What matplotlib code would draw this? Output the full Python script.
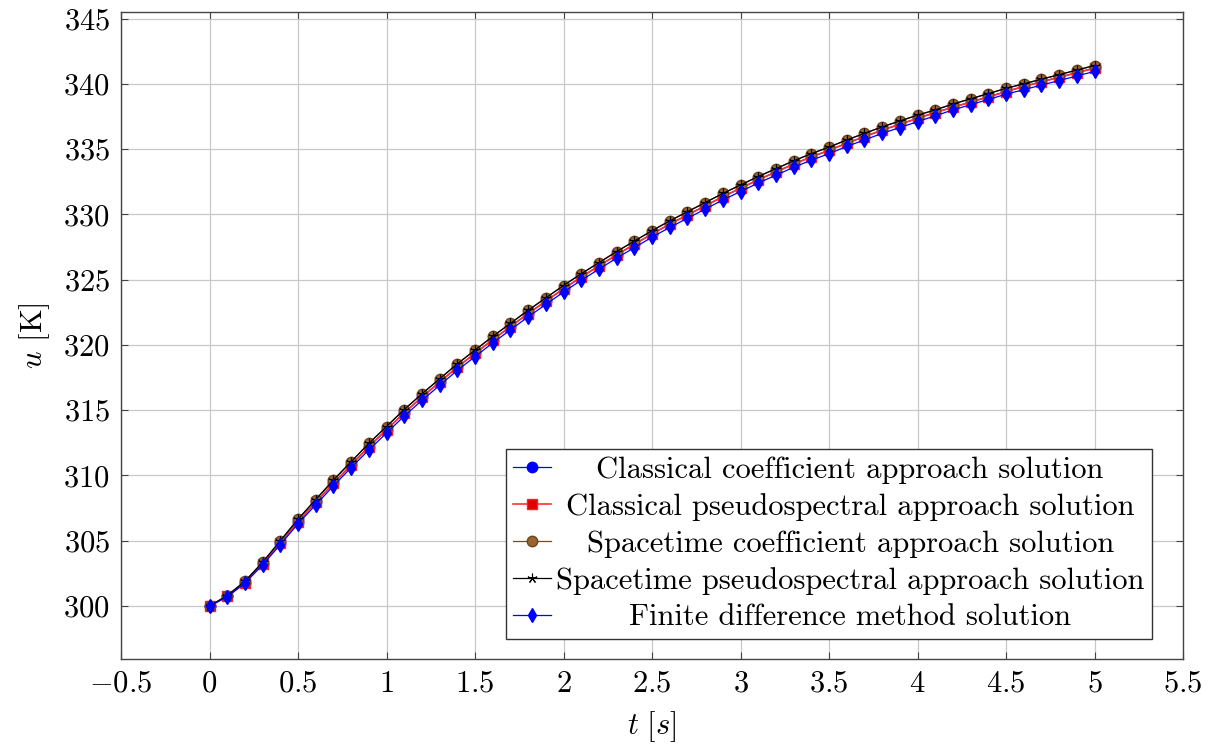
import matplotlib
matplotlib.use("Agg")
from matplotlib import pyplot as plt

plt.rcParams['font.family'] = ['cmr10', 'DejaVu Serif']
plt.rcParams['mathtext.fontset'] = 'cm'
plt.rcParams['axes.formatter.use_mathtext'] = True
plt.rcParams['axes.unicode_minus'] = True

t = [0.0, 0.1, 0.2, 0.3, 0.4, 0.5, 0.6, 0.7, 0.8, 0.9,
     1.0, 1.1, 1.2, 1.3, 1.4, 1.5, 1.6, 1.7, 1.8, 1.9,
     2.0, 2.1, 2.2, 2.3, 2.4, 2.5, 2.6, 2.7, 2.8, 2.9,
     3.0, 3.1, 3.2, 3.3, 3.4, 3.5, 3.6, 3.7, 3.8, 3.9,
     4.0, 4.1, 4.2, 4.3, 4.4, 4.5, 4.6, 4.7, 4.8, 4.9, 5.0]

classical_coef = [300.0, 300.75, 301.8, 303.25, 304.85, 306.45, 307.95, 309.4, 310.8, 312.2,
                  313.5, 314.8, 316.0, 317.15, 318.3, 319.35, 320.4, 321.4, 322.4, 323.35,
                  324.3, 325.2, 326.05, 326.9, 327.7, 328.5, 329.25, 329.95, 330.65, 331.35,
                  332.0, 332.65, 333.25, 333.85, 334.4, 334.9, 335.45, 335.95, 336.45, 336.9,
                  337.35, 337.8, 338.2, 338.6, 339.0, 339.4, 339.8, 340.15, 340.5, 340.85, 341.2]
classical_ps = list(classical_coef)

spacetime_coef = [300.0, 300.8, 301.9, 303.35, 305.0, 306.65, 308.15, 309.65, 311.05, 312.45,
                  313.75, 315.05, 316.25, 317.4, 318.55, 319.6, 320.65, 321.65, 322.65, 323.6,
                  324.55, 325.45, 326.3, 327.15, 327.95, 328.75, 329.5, 330.2, 330.9, 331.6,
                  332.25, 332.9, 333.5, 334.1, 334.65, 335.15, 335.7, 336.2, 336.7, 337.15,
                  337.6, 338.0, 338.45, 338.85, 339.25, 339.65, 340.0, 340.35, 340.7, 341.05, 341.4]
spacetime_ps = list(spacetime_coef)

fdm = [300.0, 300.7, 301.75, 303.15, 304.7, 306.3, 307.75, 309.2, 310.6, 311.95,
       313.25, 314.55, 315.75, 316.9, 318.05, 319.1, 320.15, 321.15, 322.15, 323.1,
       324.05, 324.95, 325.8, 326.65, 327.45, 328.25, 329.0, 329.7, 330.4, 331.1,
       331.75, 332.4, 333.0, 333.6, 334.15, 334.65, 335.2, 335.7, 336.2, 336.65,
       337.1, 337.55, 338.0, 338.4, 338.8, 339.2, 339.55, 339.9, 340.25, 340.6, 340.95]

labels = ['Classical coefficient approach solution',
          'Classical pseudospectral approach solution',
          'Spacetime coefficient approach solution',
          'Spacetime pseudospectral approach solution',
          'Finite difference method solution']

fig = plt.figure(figsize=(12.2, 7.49), dpi=100)
ax = fig.add_axes([121 / 1220, 1 - 659.3 / 749, (1183 - 121) / 1220, (659.3 - 12) / 749])

ax.plot(t, classical_coef, color='blue', lw=0.9, marker='o', ms=7.5, mfc='blue', mec='blue', label=labels[0])
ax.plot(t, classical_ps, color='#ff3030', lw=1.2, marker='s', ms=7.5, mfc='#e00000', mec='#ff2020', label=labels[1])
ax.plot(t, spacetime_coef, color='#7a4a20', lw=0.9, marker='o', ms=7.5, mfc='#99642f', mec='#6a4520', label=labels[2])
ax.plot(t, spacetime_ps, color='black', lw=0.9, marker=(5, 2), ms=7, mfc='black', mec='black', mew=0.8, label=labels[3])
ax.plot(t, fdm, color='blue', lw=0.9, marker='d', ms=7.5, mfc='blue', mec='blue', label=labels[4])

ax.set_xlim(-0.5, 5.5)
ax.set_ylim(295.92, 345.5)
ax.set_xticks([-0.5, 0, 0.5, 1, 1.5, 2, 2.5, 3, 3.5, 4, 4.5, 5, 5.5])
ax.set_xticklabels(['$-0.5$', '$0$', '$0.5$', '$1$', '$1.5$', '$2$', '$2.5$', '$3$', '$3.5$',
                    '$4$', '$4.5$', '$5$', '$5.5$'])
yt = [300, 305, 310, 315, 320, 325, 330, 335, 340, 345]
ax.set_yticks(yt)
ax.set_yticklabels(['$%d$' % v for v in yt])
ax.tick_params(direction='in', top=True, right=True, length=5, width=0.8, color='#444444',
               labelsize=22, pad=8)
ax.grid(True, color='#c8c8c8', lw=0.9)
ax.set_axisbelow(True)
for s in ax.spines.values():
    s.set_color('#444444')
    s.set_linewidth(1.0)

ax.set_xlabel(r'$t\ [s]$', fontsize=22, labelpad=8)
ax.set_ylabel(r'$u$ [K]', fontsize=22, labelpad=8)

leg = ax.legend(loc='lower right', bbox_to_anchor=(1152 / 1220, 1 - 639 / 749),
                bbox_transform=fig.transFigure, fontsize=22, frameon=True, fancybox=False,
                edgecolor='#333333', framealpha=1, handlelength=1.25, handletextpad=0.15,
                labelspacing=0.3, borderpad=0.25, borderaxespad=0)
leg.get_frame().set_linewidth(1.0)

# center the legend texts like pgfplots does
fig.canvas.draw()
texts = leg.get_texts()
widths = [tx.get_window_extent().width for tx in texts]
maxw = max(widths)
for tx, w in zip(texts, widths):
    tx.set_x((maxw - w) / 2)

fig.savefig('out.png', dpi=100)
